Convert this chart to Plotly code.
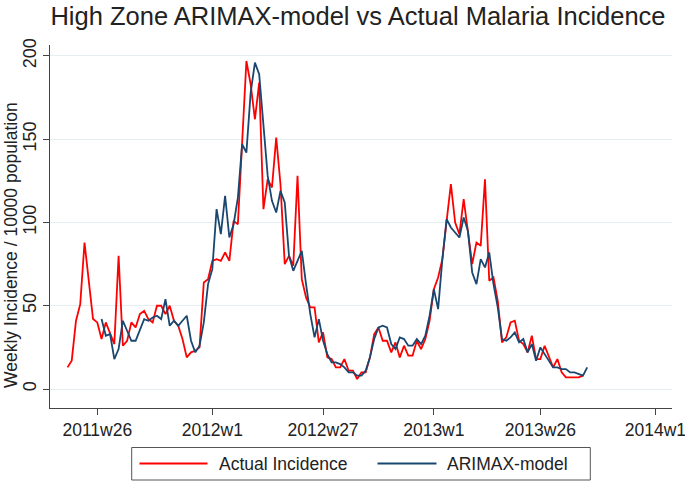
import plotly.graph_objects as go

# ---- data ----
actual_start = "2011w19"
actual_incidence = [13, 17, 41, 51, 88, 64, 42, 40, 30, 40, 34, 27, 80, 26, 29, 40, 37, 45, 47, 42,
                    40, 50, 50, 45, 50, 41, 38, 30, 19, 22, 23, 25, 64, 66, 77, 78, 77, 82, 77, 101,
                    99, 145, 197, 183, 162, 184, 108, 126, 121, 151, 123, 75, 80, 74, 128, 66, 55, 49, 49, 28,
                    34, 19, 18, 13, 13, 18, 11, 11, 6, 10, 10, 19, 33, 37, 29, 29, 22, 28, 19, 26,
                    20, 20, 29, 24, 30, 41, 60, 67, 78, 101, 123, 100, 93, 114, 95, 75, 88, 86, 126, 65,
                    67, 53, 28, 31, 40, 41, 29, 27, 22, 32, 18, 18, 26, 20, 13, 18, 10, 7, 7, 7,
                    7, 8]

model_start = "2011w27"
arimax_model = [42, 32, 33, 18, 24, 41, 35, 29, 29, 35, 42, 41, 43, 44, 42, 54, 38, 41, 38, 41,
                44, 29, 22, 26, 40, 63, 72, 108, 93, 116, 91, 99, 115, 147, 142, 178, 196, 189, 157, 128,
                113, 106, 119, 112, 80, 71, 77, 83, 63, 45, 31, 42, 29, 21, 16, 16, 15, 13, 10, 10,
                8, 8, 11, 19, 30, 37, 38, 37, 27, 24, 31, 30, 26, 26, 30, 27, 32, 44, 60, 48,
                78, 102, 97, 94, 91, 103, 95, 70, 63, 78, 73, 82, 63, 49, 30, 29, 31, 34, 28, 30,
                22, 27, 17, 25, 21, 17, 13, 13, 12, 12, 10, 10, 9, 8, 13]

x_tick_labels = ["2011w26", "2012w1", "2012w27", "2013w1", "2013w26", "2014w1"]
y_tick_values = [0, 50, 100, 150, 200]

series_names = ["Actual Incidence", "ARIMAX-model"]
series_colors = ["#ff0000", "#1a476f"]


def week_index(label):
    year, week = label.split("w")
    return (int(year) - 2011) * 52 + int(week) - 1


def week_label(idx):
    return f"{2011 + idx // 52}w{idx % 52 + 1}"


a0 = week_index(actual_start)
m0 = week_index(model_start)
actual_x = list(range(a0, a0 + len(actual_incidence)))
model_x = list(range(m0, m0 + len(arimax_model)))

FONT = "Liberation Sans, Arial, sans-serif"
TXT = "#222222"

# figure geometry (pixels)
W, H = 685, 482
ML, MR, MT, MB = 50, 13, 45, 74
PW, PH = W - ML - MR, H - MT - MB


def px(xp):
    return (xp - ML) / PW


def py(yp):
    return (H - MB - yp) / PH


fig = go.Figure()
for xs, ys, name, col in [(actual_x, actual_incidence, series_names[0], series_colors[0]),
                          (model_x, arimax_model, series_names[1], series_colors[1])]:
    fig.add_trace(go.Scatter(
        x=xs, y=ys, mode="lines", name=name, showlegend=False,
        line=dict(color=col, width=1.8),
        text=[week_label(i) for i in xs],
        hovertemplate="%{text}: %{y}<extra>" + name + "</extra>"))

# manual Stata-style legend box (long line samples)
shapes = [dict(type="rect", xref="paper", yref="paper",
               x0=px(131.7), x1=px(590.3), y0=py(447.5), y1=py(480.0),
               line=dict(color="#555555", width=1), fillcolor="white", layer="above")]
annotations = []
legend_items = [(139.5, 207.5, 216.5), (377.5, 436.5, 445.0)]
for (l0, l1, tx), name, col in zip(legend_items, series_names, series_colors):
    shapes.append(dict(type="line", xref="paper", yref="paper",
                       x0=px(l0), x1=px(l1), y0=py(463.5), y1=py(463.5),
                       line=dict(color=col, width=1.8), layer="above"))
    annotations.append(dict(text=name, xref="paper", yref="paper",
                            x=px(tx), y=py(464), xanchor="left", yanchor="middle",
                            showarrow=False, font=dict(size=17.5, color=TXT)))

annotations.append(dict(
    text="Weekly Incidence / 10000 population",
    x=px(11), xref="paper", xanchor="center",
    y=py(245), yref="paper", yanchor="middle",
    textangle=-90, showarrow=False, font=dict(size=17.5, color=TXT)))

fig.update_layout(
    width=W, height=H,
    margin=dict(l=ML, r=MR, t=MT, b=MB, autoexpand=False),
    paper_bgcolor="white", plot_bgcolor="white",
    font=dict(family=FONT, size=18, color=TXT),
    title=dict(text="High Zone ARIMAX-model vs Actual Malaria Incidence",
               x=px(358), xref="paper", xanchor="center", y=1 - 16 / H, yanchor="middle",
               font=dict(size=25.5, color=TXT)),
    showlegend=False,
    xaxis=dict(
        range=[13.9, 159.9],
        automargin=False,
        tickmode="array",
        tickvals=[week_index(l) for l in x_tick_labels],
        ticktext=x_tick_labels,
        ticks="outside", ticklen=6, tickcolor="#444444",
        showline=True, linecolor="#444444", linewidth=1,
        showgrid=False, zeroline=False,
        tickfont=dict(size=17.5),
        ticklabeloverflow="allow",
    ),
    yaxis=dict(
        range=[-11.4, 206.6],
        automargin=False,
        tickmode="array", tickvals=y_tick_values,
        ticktext=[str(v) for v in y_tick_values],
        tickangle=-90,
        ticks="outside", ticklen=6, tickcolor="#444444",
        showline=True, linecolor="#444444", linewidth=1,
        showgrid=True, gridcolor="#e4eef1", gridwidth=1,
        zeroline=False,
        tickfont=dict(size=18),
    ),
    shapes=shapes,
    annotations=annotations,
)

fig.write_html(
    "out.html",
    config={"displayModeBar": False},
    post_script="document.body.style.margin='0';document.body.style.padding='0';"
                "document.documentElement.style.overflow='hidden';",
)
